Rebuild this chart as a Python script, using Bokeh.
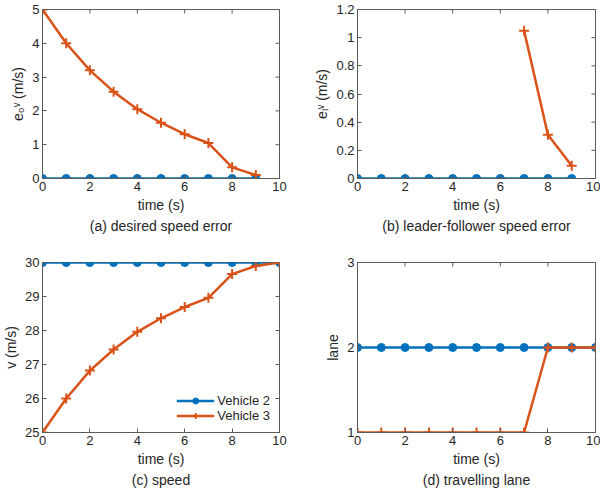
import math
from bokeh.plotting import figure
from bokeh.layouts import gridplot
from bokeh.models import Range1d, FixedTicker, Title
from bokeh.embed import file_html
from bokeh.resources import INLINE

# ---- data ----
time_a = [0, 1, 2, 3, 4, 5, 6, 7, 8, 9]
e0_veh2 = [0, 0, 0, 0, 0, 0, 0, 0, 0, 0]
e0_veh3 = [5.0, 4.0, 3.2, 2.57, 2.05, 1.65, 1.31, 1.05, 0.33, 0.10]

time_b2 = [0, 1, 2, 3, 4, 5, 6, 7, 8, 9]
el_veh2 = [0, 0, 0, 0, 0, 0, 0, 0, 0, 0]
time_b3 = [7, 8, 9]
el_veh3 = [1.05, 0.31, 0.09]

time_c = [0, 1, 2, 3, 4, 5, 6, 7, 8, 9, 10]
v_veh2 = [30, 30, 30, 30, 30, 30, 30, 30, 30, 30, 30]
v_veh3 = [25.0, 26.0, 26.82, 27.44, 27.96, 28.36, 28.69, 28.96, 29.66, 29.90, 30.0]

time_d = [0, 1, 2, 3, 4, 5, 6, 7, 8, 9, 10]
lane_veh2 = [2, 2, 2, 2, 2, 2, 2, 2, 2, 2, 2]
lane_veh3 = [1, 1, 1, 1, 1, 1, 1, 1, 2, 2, 2]

x_range_all = (0, 10)
x_ticks = [0, 2, 4, 6, 8, 10]
yrange_a = (0, 5)
yticks_a = [0, 1, 2, 3, 4, 5]
yrange_b = (0, 1.2)
yticks_b = [0, 0.2, 0.4, 0.6, 0.8, 1.0, 1.2]
ylabels_b = {0: "0", 0.2: "0.2", 0.4: "0.4", 0.6: "0.6", 0.8: "0.8", 1.0: "1", 1.2: "1.2"}
yrange_c = (25, 30)
yticks_c = [25, 26, 27, 28, 29, 30]
yrange_d = (1, 3)
yticks_d = [1, 2, 3]

BLUE = "#0072BD"
ORANGE = "#D95319"
FONT = "Liberation Sans"
AXC = "#5a5a5a"


def style_axis(ax):
    ax.major_tick_in = 4
    ax.major_tick_out = 0
    ax.minor_tick_line_color = None
    ax.axis_line_color = AXC
    ax.major_tick_line_color = AXC
    ax.major_label_text_font = FONT
    ax.major_label_text_font_size = "13px"
    ax.major_label_text_color = "#262626"
    ax.axis_label_text_font = FONT
    ax.axis_label_text_font_size = "14px"
    ax.axis_label_text_font_style = "normal"
    ax.axis_label_text_color = "#262626"
    ax.major_label_standoff = 3
    ax.axis_label_standoff = 3


def make_fig(w, h, mbl, mbr, mbt, mbb, yrange, yticks, ylabel, subtitle, overrides=None):
    p = figure(width=w, height=h, output_backend="svg", toolbar_location=None,
               x_range=Range1d(*x_range_all), y_range=Range1d(*yrange),
               min_border_left=mbl, min_border_right=mbr,
               min_border_top=mbt, min_border_bottom=mbb)
    p.xaxis.ticker = FixedTicker(ticks=x_ticks)
    p.yaxis.ticker = FixedTicker(ticks=yticks)
    if overrides:
        p.yaxis.major_label_overrides = overrides
    style_axis(p.xaxis[0])
    style_axis(p.yaxis[0])
    p.xaxis.axis_label = "time (s)"
    p.yaxis.axis_label = ylabel
    p.xgrid.grid_line_color = None
    p.ygrid.grid_line_color = None
    p.outline_line_color = AXC
    p.outline_line_alpha = 1
    p.background_fill_color = "white"
    p.border_fill_color = "white"
    # mirrored inward ticks on the right and top edges (half of each dash is clipped by the frame)
    p.scatter([x_range_all[1]] * len(yticks), yticks, marker="dash", size=8,
              line_color=AXC, line_width=1)
    p.scatter(x_ticks, [yrange[1]] * len(x_ticks), marker="dash", size=8,
              angle=math.pi / 2, line_color=AXC, line_width=1)
    t = Title(text=subtitle, align="center", text_font=FONT, text_font_size="14px",
              text_font_style="normal", text_color="#262626", standoff=1, offset=0)
    p.add_layout(t, "below")
    return p


def draw(p, x2, y2, x3, y3, legend=False):
    kw2 = dict(legend_label="Vehicle 2") if legend else {}
    kw3 = dict(legend_label="Vehicle 3") if legend else {}
    p.line(x2, y2, line_color=BLUE, line_width=2.5, **kw2)
    p.scatter(x2, y2, marker="circle", size=8, fill_color=BLUE, line_color=BLUE, **kw2)
    p.line(x3, y3, line_color=ORANGE, line_width=2.5, **kw3)
    p.scatter(x3, y3, marker="cross", size=10, line_color=ORANGE, line_width=2, **kw3)


pa = make_fig(300, 245, 41, 21, 9, 67, yrange_a, yticks_a, "e₀ᵛ (m/s)", "(a) desired speed error")
draw(pa, time_a, e0_veh2, time_a, e0_veh3)

pb = make_fig(300, 245, 57, 5, 9, 67, yrange_b, yticks_b, "eₗᵛ (m/s)",
              "(b) leader-follower speed error", ylabels_b)
draw(pb, time_b2, el_veh2, time_b3, el_veh3)

pc = make_fig(300, 247, 41, 21, 17, 60, yrange_c, yticks_c, "v (m/s)", "(c) speed")
draw(pc, time_c, v_veh2, time_c, v_veh3, legend=True)
pc.legend.location = "bottom_right"
pc.legend.border_line_color = None
pc.legend.background_fill_alpha = 0
pc.legend.label_text_font = FONT
pc.legend.label_text_font_size = "13px"
pc.legend.label_text_color = "#262626"
pc.legend.glyph_width = 38
pc.legend.glyph_height = 15
pc.legend.spacing = 0
pc.legend.padding = 2
pc.legend.margin = 9
pc.legend.label_standoff = 3

pd_ = make_fig(300, 247, 57, 5, 17, 60, yrange_d, yticks_d, "lane", "(d) travelling lane")
draw(pd_, time_d, lane_veh2, time_d, lane_veh3)

grid = gridplot([[pa, pb], [pc, pd_]], toolbar_location=None)

open("out.html", "w").write(file_html(grid, INLINE))
